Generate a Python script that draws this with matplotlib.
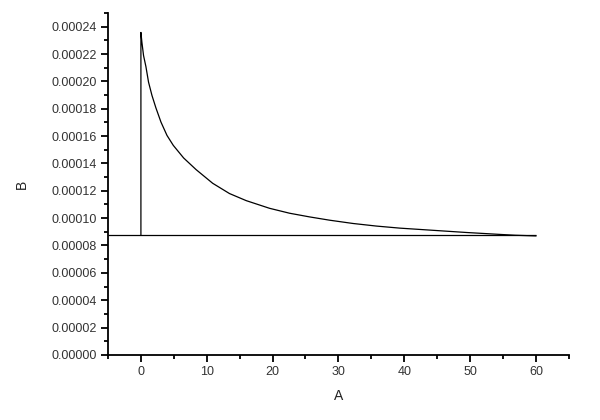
import matplotlib
matplotlib.use('Agg')
import matplotlib.pyplot as plt
from matplotlib.ticker import MultipleLocator, FormatStrFormatter

plt.rcParams['font.family'] = ['Liberation Sans', 'DejaVu Sans']

# values
a = [0.0, 0.0, 0.15, 0.40, 0.76, 1.16, 1.68, 2.28, 3.05, 3.96, 4.92, 6.49, 8.38,
     10.9, 13.45, 16.0, 19.54, 22.58, 25.63, 28.67, 32.22, 35.79, 39.33, 44.4,
     49.49, 54.56, 56.85, 60.0]
b = [0.0000875, 0.0002358, 0.0002286, 0.0002189, 0.0002108, 0.0001994, 0.0001897,
     0.0001806, 0.0001702, 0.0001605, 0.0001532, 0.0001440, 0.0001355, 0.0001255,
     0.0001180, 0.0001128, 0.0001072, 0.0001036, 0.0001009, 0.0000985, 0.0000961,
     0.0000942, 0.0000927, 0.0000911, 0.0000895, 0.0000881, 0.0000875, 0.0000870]
baseline = 0.0000875
base_start, base_end = -5, 60

fig = plt.figure(figsize=(6, 4.2), dpi=100)
ax = fig.add_axes([0.18, 0.155, 0.768, 0.814])

ax.plot(a, b, color='black', lw=0.9)
ax.hlines(baseline, base_start, base_end, color='black', lw=0.9)

ax.set_xlim(-5, 65)
ax.set_ylim(0, 0.00025)
ax.xaxis.set_major_locator(MultipleLocator(10))
ax.xaxis.set_minor_locator(MultipleLocator(5))
ax.yaxis.set_major_locator(MultipleLocator(0.00002))
ax.yaxis.set_minor_locator(MultipleLocator(0.00001))
ax.yaxis.set_major_formatter(FormatStrFormatter('%.5f'))

for s in ['top', 'right']:
    ax.spines[s].set_visible(False)
for s in ['left', 'bottom']:
    ax.spines[s].set_linewidth(1.3)

ax.tick_params(which='major', direction='out', length=5, width=1.3,
               labelsize=9, colors='black', labelcolor='#333333', pad=3)
ax.tick_params(which='minor', direction='out', length=3, width=1.3)

ax.set_xlabel('A', fontsize=10, color='#222222', labelpad=8)
ax.set_ylabel('B', fontsize=10, color='#222222', labelpad=16)

fig.savefig('out.png', dpi=100)
